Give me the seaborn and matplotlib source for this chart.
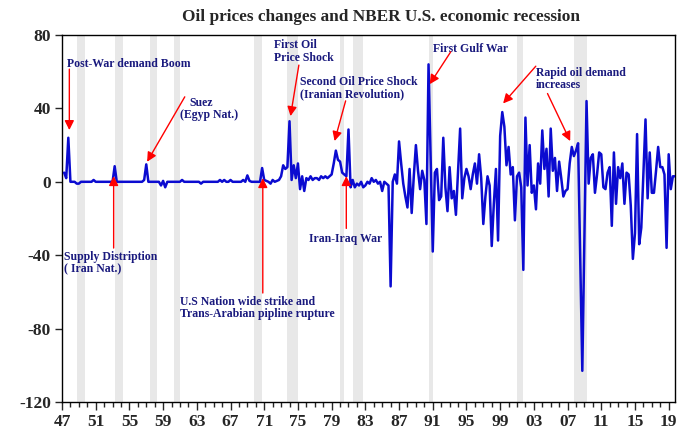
import numpy as np
import pandas as pd
import matplotlib
matplotlib.use("Agg")
import matplotlib.pyplot as plt
import matplotlib.ticker as mticker
import seaborn as sns

# quarterly oil price change (%), 1947Q2 .. 2019Q4
oil_1947_1959 = [5, 2, 24,
                 0, 0, 0, -1,  -1, 0, 0, 0,  0, 0, 0, 1,  0, 0, 0, 0,
                 0, 0, 0, 0,  0, 8.5, 0, 0,  0, 0, 0, 0,  0, 0, 0, 0,
                 0, 0, 0, 1,  9.5, 0, 0, 0,  0, 0, 0, -2,  0.5, -3, 0, 0]
oil_1960_1972 = [0, 0, 0, 0,  0, 1, 0, 0,  0, 0, 0, 0,  0, 0, -1, 0,
                 0, 0, 0, 0,  0, 0, 0, 1,  0, 1, 0, 0,  1, 0, 0, 0,
                 0, 0, 1, 0,  3.5, 0.5, 0, 0,  0, 0, 0, 7.5,  1, 0.5, 0, -1,
                 1, 0, 0.5, 1]
oil_1973_1985 = [3, 9, 7, 8,  33, 1, 9, 2,  10, -4, 3, -5,  2, 1, 3, 1,
                 2, 2, 1, 3,  2, 3, 2, 3,  4, 10, 17, 12,  11, 5, 4, 3,
                 28.5, -3, 1, -3,  -1, -2, 0, -3,  -2, 0, -1, 2,  0, 1, -1, 0,
                 -5, 0, -1, -2]
oil_1986_1999 = [-57, 0, 4, -1,  22, 10, -1, -8,  -14, 7, -17, 3,  20, 6, -4, 6,
                 1, -23, 64, 12,  -38, 5, 7, -10,  -8, 24, -3, -16,  8, -9, -5, -18,
                 5, 29, -9, 2,  7, 3, -4, 4,  10, -1, 15, 2,  -23, -8, 3, -2,
                 -35, -12, 7, -32,  25, 38, 30, 9]
oil_2000_2019 = [19, 4, 8, -21,  3, 5, -3, -48,  35, -2, 20, -6,  -2, -15, 10, -1,
                 28, 7, 18, -8,  29, 6, 13, -5,  11, 2, -8, -5,  -4, 10, 19, 14,
                 17, 21, -40, -103,  -30, 44, -1, 13,  15, -6, 4, 16,  15, -3, -4, 5,
                 8, -24, 16, -12,  8, 2, 10, -12,  5, 4, -13, -42,  -28, 26, -34, -25,
                 5, 34, -9, 16,  -6, -6, 6, 19,  8, 8, 4, -36,  15, -4, 3, 3]

# NBER recessions (peak quarter, trough quarter) as decimal years
rec_start = [1948.75, 1953.25, 1957.5, 1960.25, 1969.75, 1973.75, 1980.0, 1981.5, 1990.5, 2001.0, 2007.75]
rec_end = [1949.75, 1954.25, 1958.25, 1961.0, 1970.75, 1975.0, 1980.5, 1982.75, 1991.0, 2001.75, 2009.25]

values = oil_1947_1959 + oil_1960_1972 + oil_1973_1985 + oil_1986_1999 + oil_2000_2019
df = pd.DataFrame({"t": 1947.25 + np.arange(len(values)) / 4, "change": values})

sns.set_style("ticks")
plt.rcParams["font.family"] = ["Liberation Serif", "DejaVu Serif"]
plt.rcParams["font.weight"] = "bold"
plt.rcParams["axes.unicode_minus"] = False

fig = plt.figure(figsize=(6.86, 4.32), dpi=100)
ax = fig.add_axes([62 / 686, 1 - 402 / 432, 613 / 686, 367 / 432])

for s, e in zip(rec_start, rec_end):
    ax.axvspan(s, e, color="#e8e8e8", lw=0, zorder=0)

sns.lineplot(data=df, x="t", y="change", color="#0b0bd0", lw=1.8, ax=ax, zorder=3)

ax.set_xlim(1947, 2019.75)
ax.set_ylim(-120, 80)
ax.set_xlabel("")
ax.set_ylabel("")
ax.xaxis.set_major_locator(mticker.FixedLocator(np.arange(1947, 2020, 4)))
ax.xaxis.set_minor_locator(mticker.FixedLocator(np.arange(1947, 2020, 1)))
ax.xaxis.set_major_formatter(mticker.FuncFormatter(lambda v, p: f"{int(round(v)) % 100:02d}"))
ax.yaxis.set_major_locator(mticker.FixedLocator([-120, -80, -40, 0, 40, 80]))
ax.yaxis.set_major_formatter(mticker.FuncFormatter(lambda v, p: f"{int(v)}"))
ax.tick_params(axis="x", which="major", length=6, width=1, pad=3, labelsize=12.5)
ax.tick_params(axis="x", which="minor", length=3.5, width=1)
ax.tick_params(axis="y", which="major", length=5, width=1, pad=3, labelsize=12.5)
for lab in ax.get_xticklabels() + ax.get_yticklabels():
    lab.set_fontweight("bold")
for sp in ax.spines.values():
    sp.set_color("black")
    sp.set_linewidth(1)

fig.text(381 / 686, 1 - 17 / 432, "Oil prices changes and NBER U.S. economic recession",
         ha="center", va="center", fontsize=12.4, fontweight="bold")

navy = "#1a1a7e"
txt = dict(color=navy, fontsize=8.5, fontweight="bold", ha="left", va="top", zorder=5)
ax.text(1947.63, 67.4, "Post-War demand Boom", **txt)
ax.text(1962.09, 46.3, "Suez", **txt)
ax.text(1961.06, 39.6, "(Egyp Nat.)", **txt)
ax.text(1972.14, 77.6, "First Oil\nPrice Shock", linespacing=1.05, **txt)
ax.text(1975.19, 57.6, "Second Oil Price Shock\n(Iranian Revolution)", linespacing=1.05, **txt)
ax.text(1991.08, 75.7, "First Gulf War", **txt)
ax.text(2003.23, 62.6, "Rapid oil demand\nincreases", linespacing=1.05, **txt)
ax.text(1947.19, -37.7, "Supply Distription\n( Iran Nat.)", linespacing=1.05, **txt)
ax.text(1961.06, -62.1, "U.S Nation wide strike and\nTrans-Arabian pipline rupture", linespacing=1.05, **txt)
ax.text(1976.30, -27.8, "Iran-Iraq War", **txt)

arrow = dict(arrowstyle="-|>", color="red", lw=1, mutation_scale=14, shrinkA=0, shrinkB=0)
arrows = [
    ((1947.87, 61.4), (1947.87, 28.2)),
    ((1961.57, 46.3), (1957.10, 10.9)),
    ((1975.11, 63.6), (1974.12, 35.8)),
    ((1980.66, 44.1), (1979.35, 22.2)),
    ((1993.13, 70.8), (1990.64, 53.2)),
    ((2003.23, 63.0), (1999.35, 42.7)),
    ((2004.62, 48.1), (2007.31, 22.2)),
    ((1953.13, -36.1), (1953.13, 3.1)),
    ((1970.83, -60.6), (1970.83, 2.0)),
    ((1980.74, -25.4), (1980.74, 3.1)),
]
for tail, tip in arrows:
    ax.annotate("", xy=tip, xytext=tail, arrowprops=arrow, zorder=6)

fig.savefig("out.png", dpi=100)
